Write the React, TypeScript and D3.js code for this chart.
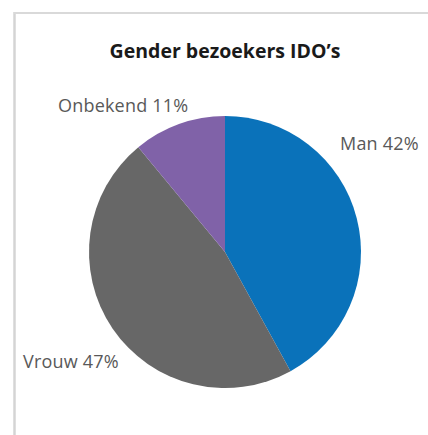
import React from "react";
import * as d3 from "d3";

const categories = ["Man", "Vrouw", "Onbekend"];
const values = [42, 47, 11];
const colors = ["#0A72BA", "#676767", "#8062A8"];
const title = "Gender bezoekers IDO’s";

const W = 428;
const H = 435;

export default function App() {
  const cx = 225;
  const cy = 252;
  const r = 136;
  const data = categories.map((c, i) => ({ name: c, value: values[i], color: colors[i] }));
  const pie = d3.pie<any>().value((d: any) => d.value).sort(null);
  const arcs = pie(data);
  const arc = d3.arc<any>().innerRadius(0).outerRadius(r);
  const labelPos: Record<string, [number, number, string]> = {
    Man: [340, 150, "start"],
    Vrouw: [23, 368, "start"],
    Onbekend: [58, 112, "start"],
  };
  return (
    <svg
      width={W}
      height={H}
      style={{ position: "absolute", left: 0, top: 0, background: "#fff" }}
    >
      <rect x={0} y={0} width={W} height={H} fill="#fff" />
      <line x1={14.5} y1={12} x2={14.5} y2={H} stroke="#d4d4d4" strokeWidth={2.5} />
      <line x1={14} y1={13} x2={W} y2={13} stroke="#d9d9d9" strokeWidth={2} />
      <text
        x={225}
        y={58}
        textAnchor="middle"
        fontFamily="'Open Sans', sans-serif"
        fontWeight="bold"
        fontSize={19.5}
        fill="#1a1a1a"
      >
        {title}
      </text>
      <g transform={`translate(${cx},${cy})`}>
        {arcs.map((a: any, i: number) => (
          <path key={i} d={arc(a) as string} fill={a.data.color} />
        ))}
      </g>
      {data.map((d, i) => {
        const [x, y, anchor] = labelPos[d.name];
        return (
          <text
            key={i}
            x={x}
            y={y}
            textAnchor={anchor as any}
            fontFamily="'Open Sans', sans-serif"
            fontSize={18}
            letterSpacing={0.2}
            fill="#595959"
          >
            {`${d.name} ${d.value}%`}
          </text>
        );
      })}
    </svg>
  );
}
